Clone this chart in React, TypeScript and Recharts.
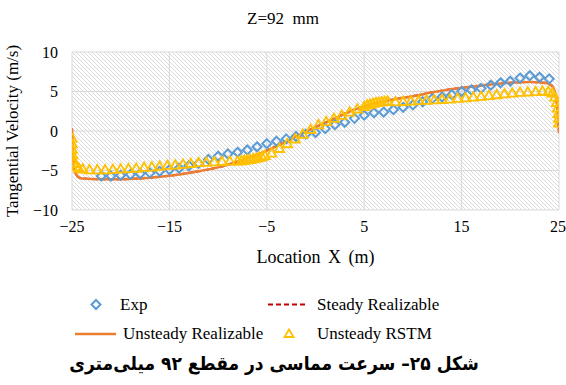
import React from 'react';
import {
  ComposedChart, Line, Scatter, XAxis, YAxis, CartesianGrid, Label,
} from 'recharts';

// ── data ─────────────────────────────────────────────────────────────────────

const X_TICKS = [-25, -15, -5, 5, 15, 25];
const Y_TICKS = [-10, -5, 0, 5, 10];

// Exp (open diamonds)
const EXP_X = [-22, -21, -20, -19, -18, -17, -16, -15, -14, -13, -12, -11, -10, -9, -8, -7, -6, -5, -4, -3, -2, -1, 0, 1, 2, 3, 4, 5, 6, 7, 8, 9, 10, 11, 12, 13, 14, 15, 16, 17, 18, 19, 20, 21, 22, 23, 24];
const EXP_Y = [-5.7, -5.7, -5.6, -5.5, -5.4, -5.3, -5.1, -4.9, -4.7, -4.4, -4.1, -3.6, -3.2, -2.9, -2.7, -2.4, -2.0, -1.6, -1.3, -1.0, -0.7, -0.4, -0.2, 0.3, 0.8, 1.1, 1.6, 2.0, 2.3, 2.4, 2.7, 3.0, 3.3, 3.7, 4.1, 4.3, 4.6, 5.0, 5.2, 5.4, 5.8, 6.1, 6.3, 6.7, 7.0, 6.8, 6.6];

// Unsteady Realizable (orange line)
const UR_X = [-25, -24.9, -24.7, -24.4, -24, -22, -20, -18, -16, -14, -12, -10, -8, -6, -4, -2, 0, 2, 4, 6, 8, 10, 12, 14, 16, 18, 20, 22, 23.5, 24.2, 24.6, 24.85, 25];
const UR_Y = [0.3, -3.0, -5.0, -5.8, -6.0, -6.1, -6.1, -6.0, -5.8, -5.5, -5.1, -4.6, -3.9, -3.0, -1.9, -0.7, 0.5, 1.6, 2.7, 3.5, 4.0, 4.4, 4.9, 5.3, 5.6, 5.9, 6.1, 6.2, 6.1, 5.8, 4.8, 2.5, -0.2];

// Steady Realizable (dashed, lies under the unsteady curve)
const SR_X = UR_X;
const SR_Y = UR_Y;

// Unsteady RSTM (open triangles)
const RSTM_X = [-25, -25, -24.97, -24.93, -24.88, -24.8, -24.6, -24.3, -23.9, -23.2, -22.4, -21.6, -20.8, -20.0, -19.2, -18.4, -17.6, -16.8, -16.0, -15.2, -14.4, -13.6, -12.8, -12.0, -11.2, -10.4, -9.6, -8.8, -8.0, -7.6, -7.3, -7.0, -6.7, -6.4, -6.1, -5.8, -5.5, -5.2, -4.5, -3.7, -2.9, -2.1, -1.3, -0.5, 0.3, 1.1, 1.9, 2.7, 3.5, 4.3, 5.0, 5.3, 5.6, 5.9, 6.2, 6.5, 6.8, 7.1, 7.4, 8.2, 9.0, 9.8, 10.6, 11.4, 12.2, 13.0, 13.8, 14.6, 15.4, 16.2, 17.0, 17.8, 18.6, 19.4, 20.2, 21.0, 21.8, 22.6, 23.3, 23.9, 24.3, 24.6, 24.75, 24.85, 24.92, 24.97, 25];
const RSTM_Y = [-0.9, -1.6, -2.3, -3.0, -3.6, -4.1, -4.5, -4.7, -4.8, -4.9, -4.9, -4.9, -4.85, -4.8, -4.75, -4.7, -4.6, -4.55, -4.45, -4.35, -4.3, -4.2, -4.1, -4.0, -3.95, -3.9, -3.85, -3.8, -3.8, -3.75, -3.7, -3.65, -3.6, -3.5, -3.45, -3.35, -3.25, -3.1, -2.8, -2.2, -1.6, -1.0, -0.4, 0.2, 0.8, 1.2, 1.6, 2.0, 2.4, 2.8, 3.1, 3.3, 3.4, 3.5, 3.6, 3.65, 3.7, 3.75, 3.8, 3.7, 3.75, 3.8, 3.85, 3.9, 3.95, 4.0, 4.05, 4.15, 4.2, 4.3, 4.4, 4.5, 4.6, 4.7, 4.8, 4.9, 4.95, 5.0, 5.05, 5.0, 4.8, 4.3, 3.6, 2.9, 2.2, 1.6, 1.0];

const pts = (xs: number[], ys: number[]) => xs.map((x, i) => ({ x, y: ys[i] }));

const expData = pts(EXP_X, EXP_Y);
const urData = pts(UR_X, UR_Y);
const srData = pts(SR_X, SR_Y);
const rstmData = pts(RSTM_X, RSTM_Y);

// ── style ────────────────────────────────────────────────────────────────────

const BLUE = '#5B9BD5';
const ORANGE = '#ED7D31';
const YELLOW = '#FFC000';
const RED = '#C00000';
const SERIF = "'Liberation Serif', 'Times New Roman', serif";
const TICK = { fill: '#000', fontSize: 16, fontFamily: SERIF };
const fmtTick = (v: number) => String(v).replace('-', '\u2212');

function Diamond(props: any) {
  const { cx, cy } = props;
  const r = 4.5;
  return (
    <polygon
      points={`${cx},${cy - r} ${cx + r},${cy} ${cx},${cy + r} ${cx - r},${cy}`}
      fill="none" stroke={BLUE} strokeWidth={2}
    />
  );
}

function Triangle(props: any) {
  const { cx, cy } = props;
  const r = 4.8;
  return (
    <polygon
      points={`${cx},${cy - r} ${cx + r},${cy + r * 0.75} ${cx - r},${cy + r * 0.75}`}
      fill="none" stroke={YELLOW} strokeWidth={1.8}
    />
  );
}

const legendText: React.CSSProperties = {
  position: 'absolute', fontFamily: SERIF, fontSize: 17, color: '#000', lineHeight: '20px',
};

export default function App() {
  return (
    <div style={{ position: 'absolute', left: 0, top: 0, width: 566, height: 385, background: '#fff', overflow: 'hidden' }}>
      <div style={{ position: 'absolute', left: 0, width: 566, top: 9, textAlign: 'center', fontFamily: SERIF, fontSize: 17, lineHeight: '20px' }}>
        Z=92&nbsp; mm
      </div>
      <ComposedChart width={566} height={280} margin={{ top: 52, right: 7, bottom: 0, left: 0 }}>
        <defs>
          <pattern id="hatch" patternUnits="userSpaceOnUse" width={4} height={4}>
            <path d="M-1,3 l2,2 M0,0 l4,4 M3,-1 l2,2" stroke="#d6d6d6" strokeWidth={0.9} />
          </pattern>
        </defs>
        <CartesianGrid stroke="#d9d9d9" fill="url(#hatch)" />
        <XAxis
          type="number" dataKey="x" domain={[-25, 25]} ticks={X_TICKS}
          axisLine={false} tickLine={false} tick={TICK} tickMargin={5}
          tickFormatter={fmtTick} height={70} allowDataOverflow
        >
          <Label value="Location X (m)" position="insideBottom" offset={17}
            style={{ fontFamily: SERIF, fontSize: 18, fill: '#000', wordSpacing: 3 }} />
        </XAxis>
        <YAxis
          type="number" dataKey="y" domain={[-10, 10]} ticks={Y_TICKS}
          axisLine={false} tickLine={false} tick={TICK} tickMargin={8}
          tickFormatter={fmtTick} width={72} allowDataOverflow
        >
          <Label value="Tangential  Velocity (m/s)" angle={-90} position="insideLeft" offset={12}
            style={{ fontFamily: SERIF, fontSize: 17, fill: '#000', textAnchor: 'middle' }} />
        </YAxis>
        <Line data={srData} dataKey="y" type="monotone" stroke={RED} strokeWidth={2}
          strokeDasharray="5 3" dot={false} isAnimationActive={false} />
        <Scatter data={expData} dataKey="y" shape={Diamond} isAnimationActive={false} />
        <Line data={urData} dataKey="y" type="monotone" stroke={ORANGE} strokeWidth={2.5}
          dot={false} isAnimationActive={false} />
        <Scatter data={rstmData} dataKey="y" shape={Triangle} isAnimationActive={false} />
      </ComposedChart>

      {/* legend */}
      <svg style={{ position: 'absolute', left: 0, top: 290 }} width={566} height={60}>
        <polygon points="96,10 100.5,14.5 96,19 91.5,14.5" fill="none" stroke={BLUE} strokeWidth={2} />
        <line x1={268} y1={14.5} x2={308} y2={14.5} stroke={RED} strokeWidth={2} strokeDasharray="5 3" />
        <line x1={75} y1={44} x2={116} y2={44} stroke={ORANGE} strokeWidth={2.5} />
        <polygon points="289,39.5 293.5,47 284.5,47" fill="none" stroke={YELLOW} strokeWidth={1.8} />
      </svg>
      <div style={{ ...legendText, left: 120, top: 295 }}>Exp</div>
      <div style={{ ...legendText, left: 317, top: 295 }}>Steady Realizable</div>
      <div style={{ ...legendText, left: 123, top: 324 }}>Unsteady Realizable</div>
      <div style={{ ...legendText, left: 317, top: 324 }}>Unsteady RSTM</div>

      {/* caption */}
      <div style={{
        position: 'absolute', left: -9, width: 566, top: 351, textAlign: 'center',
        fontFamily: "'DejaVu Sans', sans-serif", fontWeight: 'bold', fontSize: 19, lineHeight: '24px',
        direction: 'rtl', transform: 'scaleX(0.9)', transformOrigin: '283px 0',
      }}>
        شکل ۲۵– سرعت مماسی در مقطع ۹۲ میلی‌متری
      </div>
    </div>
  );
}
